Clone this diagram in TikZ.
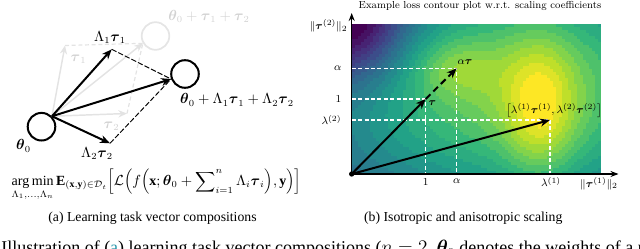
\documentclass[tikz,border=0pt]{standalone}
\usepackage{amsmath,amssymb}
\usepackage{fontspec}
\setmainfont{Liberation Serif}
\usetikzlibrary{arrows.meta}

\definecolor{vir0}{HTML}{440154}
\definecolor{vir1}{HTML}{482878}
\definecolor{vir2}{HTML}{3E4989}
\definecolor{vir3}{HTML}{31688E}
\definecolor{vir4}{HTML}{26828E}
\definecolor{vir5}{HTML}{1F9E89}
\definecolor{vir6}{HTML}{35B779}
\definecolor{vir7}{HTML}{6ECE58}
\definecolor{vir8}{HTML}{B5DE2B}
\definecolor{vir9}{HTML}{FDE725}
\definecolor{linkcol}{RGB}{40,150,170}

\begin{document}
\begin{tikzpicture}[x=0.75pt, y=-0.75pt,
  vec/.style={line width=1.5pt, -{Stealth[length=7.5pt,width=6pt]}},
  ghost/.style={line width=1.1pt, gray!22, -{Stealth[length=6.5pt,width=5.5pt]}},
  ghostdash/.style={line width=0.9pt, gray!22, dash pattern=on 3pt off 2pt},
  wt/.style={circle, draw, line width=1.5pt, minimum size=20.7pt, inner sep=0pt},
  guide/.style={white, line width=0.8pt, dash pattern=on 3pt off 1.8pt},
  axis/.style={line width=1pt, -{Stealth[length=6pt,width=4.5pt]}},
  lbl/.style={font=\fontsize{10.5}{12}\selectfont, inner sep=1pt},
  ticklbl/.style={font=\fontsize{8.5}{10}\selectfont, inner sep=1pt},
  capt/.style={font=\fontsize{10.3}{12}\selectfont, inner sep=1pt}]
\useasboundingbox (0,0) rectangle (640,249);

% (a) task vector compositions
\node[wt, draw=gray!20, line width=1.3pt] (thtwo) at (155.5,36) {};
\node[wt] (th0) at (41.5,126.7) {};
\node[wt] (thnew) at (185,74) {};

\coordinate (org) at (th0.north east);
\coordinate (t1) at (65,45.5);
\coordinate (t2) at (127,113.5);
\coordinate (gsum) at (thtwo.210);
\coordinate (l1) at (111.7,49.3);
\coordinate (l2) at (110,143.3);
\coordinate (lsum) at (thnew.200);

% gray parallelogram
\draw[ghostdash] (t1) -- (gsum);
\draw[ghostdash] (t2) -- (gsum);
\draw[ghost] (org) -- (t1);
\draw[ghost] (org) -- (t2);
\draw[ghost] (org) -- (gsum);

% learned composition
\draw[line width=0.7pt, dash pattern=on 4pt off 1.5pt] (l1) -- (lsum);
\draw[line width=0.7pt, dash pattern=on 4pt off 1.5pt] (l2) -- (lsum);
\draw[vec] (org) -- (l1);
\draw[vec] (org) -- (l2);
\draw[vec] (org) -- (lsum);

\node[lbl, text=gray!35] (gsumlab) at (209,16.5) {$\boldsymbol{\theta}_0+\boldsymbol{\tau}_1+\boldsymbol{\tau}_2$};
\node[lbl, text=gray!35] (t1lab) at (78.5,59.5) {$\boldsymbol{\tau}_1$};
\node[lbl, text=gray!35] (t2lab) at (111.5,126.5) {$\boldsymbol{\tau}_2$};
\node[lbl] (l1lab) at (110,37.5) {$\Lambda_1\boldsymbol{\tau}_1$};
\node[lbl, inner sep=0pt] (l2lab) at (97,153.5) {$\Lambda_2\boldsymbol{\tau}_2$};
\node[lbl] (th0lab) at (23.5,146) {$\boldsymbol{\theta}_0$};
\node[lbl] (newlab) at (237,100) {$\boldsymbol{\theta}_0+\Lambda_1\boldsymbol{\tau}_1+\Lambda_2\boldsymbol{\tau}_2$};
\node[lbl, anchor=base, inner sep=0pt] (obj) at (156.5,185.5) {$\displaystyle\operatorname*{arg\,min}_{\Lambda_1,\dots,\Lambda_n}\mathbf{E}_{(\mathbf{x},\mathbf{y})\in\mathcal{D}_t}\Big[\mathcal{L}\Big(f\Big(\mathbf{x};\boldsymbol{\theta}_0+\sum\nolimits_{i=1}^{n}\Lambda_i\boldsymbol{\tau}_i\Big),\mathbf{y}\Big)\Big]$};
\node[capt] (capa) at (152.5,218.3) {(a) Learning task vector compositions};

% (b) contour plot
\def\xO{351.7}
\def\yO{174}
\def\yT{24}
\foreach \i in {0,...,82}{
  \foreach \j in {0,...,49}{
    \pgfmathsetmacro\ua{(\i*3+1.5+\xO-540)/100}
    \pgfmathsetmacro\ub{(\j*3+1.5+\yT-100)/100}
    \pgfmathsetmacro\val{0.75*exp(-((\ua+0.2)*(\ua+0.2)/4.5+(\ub+0.1)*(\ub+0.1)/1.62))+0.3*exp(-(\ua*\ua/0.125+(\ub-0.1)*(\ub-0.1)/0.5))+0.15*exp(-((\ua+0.84)*(\ua+0.84)/0.18+(\ub+0.32)*(\ub+0.32)/0.08))-0.55*exp(-((\ua+1.88)*(\ua+1.88)+(\ub+0.76)*(\ub+0.76))/0.32)}
    \pgfmathtruncatemacro\lev{max(0,min(21,floor((\val+0.22)/1.24*22)))}
    \pgfmathsetmacro\s{\lev*9/21}
    \pgfmathtruncatemacro\ci{min(8,floor(\s))}
    \pgfmathtruncatemacro\ct{round((\s-\ci)*100)}
    \pgfmathtruncatemacro\cn{\ci+1}
    \edef\cc{vir\cn!\ct!vir\ci}
    \fill[fill=\cc] (\xO+\i*3,\yT+\j*3) rectangle ++(3.4,3.4);
  }
}
\fill[white] (600.7,20) rectangle (606,176);

\coordinate (O) at (\xO,\yO);
\coordinate (P1) at (425.7,99);
\coordinate (Pa) at (456.7,68.3);
\coordinate (Pl) at (550,120);
\coordinate (Xe) at (618.5,\yO);
\coordinate (Ye) at (\xO,13);

% guides
\draw[guide] (O |- P1) -- (P1) -- (P1 |- O);
\draw[guide] (O |- Pa) -- (Pa) -- (Pa |- O);
\draw[guide] (O |- Pl) -- (Pl) -- (Pl |- O);

% axes
\draw[axis] (O) -- (Xe);
\draw[axis] (O) -- (Ye);
\fill (O) circle[radius=2pt];

% scaled vectors
\draw[vec] (O) -- (P1);
\draw[vec, dash pattern=on 5pt off 3pt] (P1) -- (Pa);
\draw[vec] (O) -- (Pl);

\node[ticklbl, anchor=north] (x1) at (425.7,177) {$1$};
\node[ticklbl, anchor=north] (xa) at (456.7,177) {$\alpha$};
\node[ticklbl, anchor=north] (xl) at (551,175.5) {$\lambda^{(1)}$};
\node[ticklbl] (xlab) at (599,183.5) {$\|\boldsymbol{\tau}^{(1)}\|_2$};
\node[ticklbl, anchor=east] (ya) at (343,68.3) {$\alpha$};
\node[ticklbl, anchor=east] (y1) at (343,99) {$1$};
\node[ticklbl, anchor=east] (yl) at (343,120) {$\lambda^{(2)}$};
\node[ticklbl, anchor=east] (ylab) at (349,26) {$\|\boldsymbol{\tau}^{(2)}\|_2$};
\node[ticklbl, anchor=west] (taulab) at (427,103.5) {$\boldsymbol{\tau}$};
\node[ticklbl] (atlab) at (465,61.7) {$\alpha\boldsymbol{\tau}$};
\node[ticklbl] (pllab) at (554,110.5) {$\left[\lambda^{(1)}\boldsymbol{\tau}^{(1)},\lambda^{(2)}\boldsymbol{\tau}^{(2)}\right]$};
\node[font=\fontfamily{lmr}\fontsize{7.6}{9}\selectfont, inner sep=1pt] (title) at (480,5.5) {Example loss contour plot w.r.t. scaling coefficients};
\node[capt] (capb) at (463.3,218.3) {(b) Isotropic and anisotropic scaling};

% figure caption, cut by the page
\begin{scope}
\clip (0,0) rectangle (640,249);
\node[anchor=base west, font=\fontsize{13.5}{16}\selectfont, inner sep=0pt] (fig) at (1,254) {Illustration of (\textcolor{linkcol}{a}) learning task vector compositions ($n=2$, $\boldsymbol{\theta}_0$ denotes the weights of a p};
\end{scope}
\end{tikzpicture}
\end{document}
